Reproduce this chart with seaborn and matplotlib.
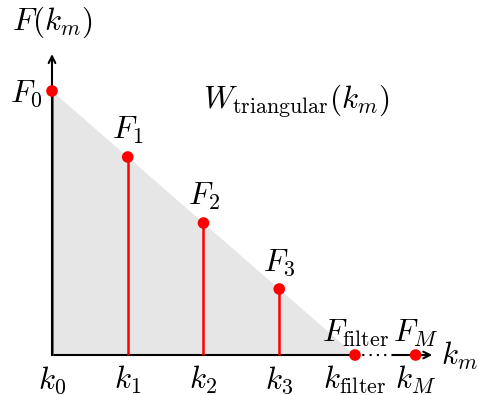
import matplotlib
matplotlib.use("Agg")
import matplotlib.pyplot as plt
import seaborn as sns
import pandas as pd

sns.set_theme(style="white")
plt.rcParams["mathtext.fontset"] = "cm"
plt.rcParams["font.family"] = ["DejaVu Serif"]
plt.rcParams["text.color"] = "black"

# sample positions and triangular window values
k_pos = [0, 1, 2, 3]
F_vals = [1.0, 0.75, 0.5, 0.25]
k_filter = 4.0
k_M = 4.8
F_labels = [r"$F_0$", r"$F_1$", r"$F_2$", r"$F_3$"]
k_labels = [r"$k_0$", r"$k_1$", r"$k_2$", r"$k_3$"]

df = pd.DataFrame({"k": k_pos + [k_filter, k_M], "F": F_vals + [0.0, 0.0]})

fig = plt.figure(figsize=(4.79, 3.95), dpi=100)
ax = fig.add_axes([0, 0, 1, 1])
ax.set_xlim(-52 / 75.75, (479 - 52) / 75.75)
ax.set_ylim(-40 / 264, 355 / 264)
ax.axis("off")

# shaded triangular window
ax.fill_between([0, k_filter], [1.0, 0.0], 0, color="#e6e6e6", lw=0, zorder=0)

# axes with arrows
ax.plot([0, k_filter], [0, 0], color="black", lw=1.5, zorder=1)
ax.plot([k_filter, 4.5], [0, 0], color="black", lw=1.5, ls=(0, (1, 2.5)), zorder=1)
ax.annotate("", xy=(5.02, 0), xytext=(4.5, 0),
            arrowprops=dict(arrowstyle="->", color="black", lw=1.5, shrinkA=0, shrinkB=0))
ax.annotate("", xy=(0, 1.14), xytext=(0, 0),
            arrowprops=dict(arrowstyle="->", color="black", lw=1.5, shrinkA=0, shrinkB=0))

# stems and sample points
ax.vlines(k_pos, 0, F_vals, color="red", lw=1.8, zorder=2)
sns.scatterplot(data=df, x="k", y="F", color="red", s=70, edgecolor="none",
                zorder=3, ax=ax, legend=False)
ax.set_xlabel("")
ax.set_ylabel("")

fs = 22.5
off = 0.1
for i, (k, f) in enumerate(zip(k_pos, F_vals)):
    if i == 0:
        ax.text(k - 0.34, f - 0.01, F_labels[i], fontsize=fs, ha="center", va="center")
    else:
        ax.text(k, f + off, F_labels[i], fontsize=fs, ha="center", va="center")
    ax.text(k, -0.095, k_labels[i], fontsize=fs, ha="center", va="center")

ax.text(k_filter, 0.083, r"$F_{\mathrm{filter}}$", fontsize=fs, ha="center", va="center")
ax.text(k_M, 0.083, r"$F_M$", fontsize=fs, ha="center", va="center")
ax.text(k_filter, -0.095, r"$k_{\mathrm{filter}}$", fontsize=fs, ha="center", va="center")
ax.text(k_M, -0.095, r"$k_M$", fontsize=fs, ha="center", va="center")
ax.text(5.38, -0.005, r"$k_m$", fontsize=fs, ha="center", va="center")
ax.text(0, 1.26, r"$F(k_m)$", fontsize=fs, ha="center", va="center")
ax.text(3.23, 0.96, r"$W_{\mathrm{triangular}}(k_m)$", fontsize=fs, ha="center", va="center")

fig.savefig("out.png", dpi=100)
